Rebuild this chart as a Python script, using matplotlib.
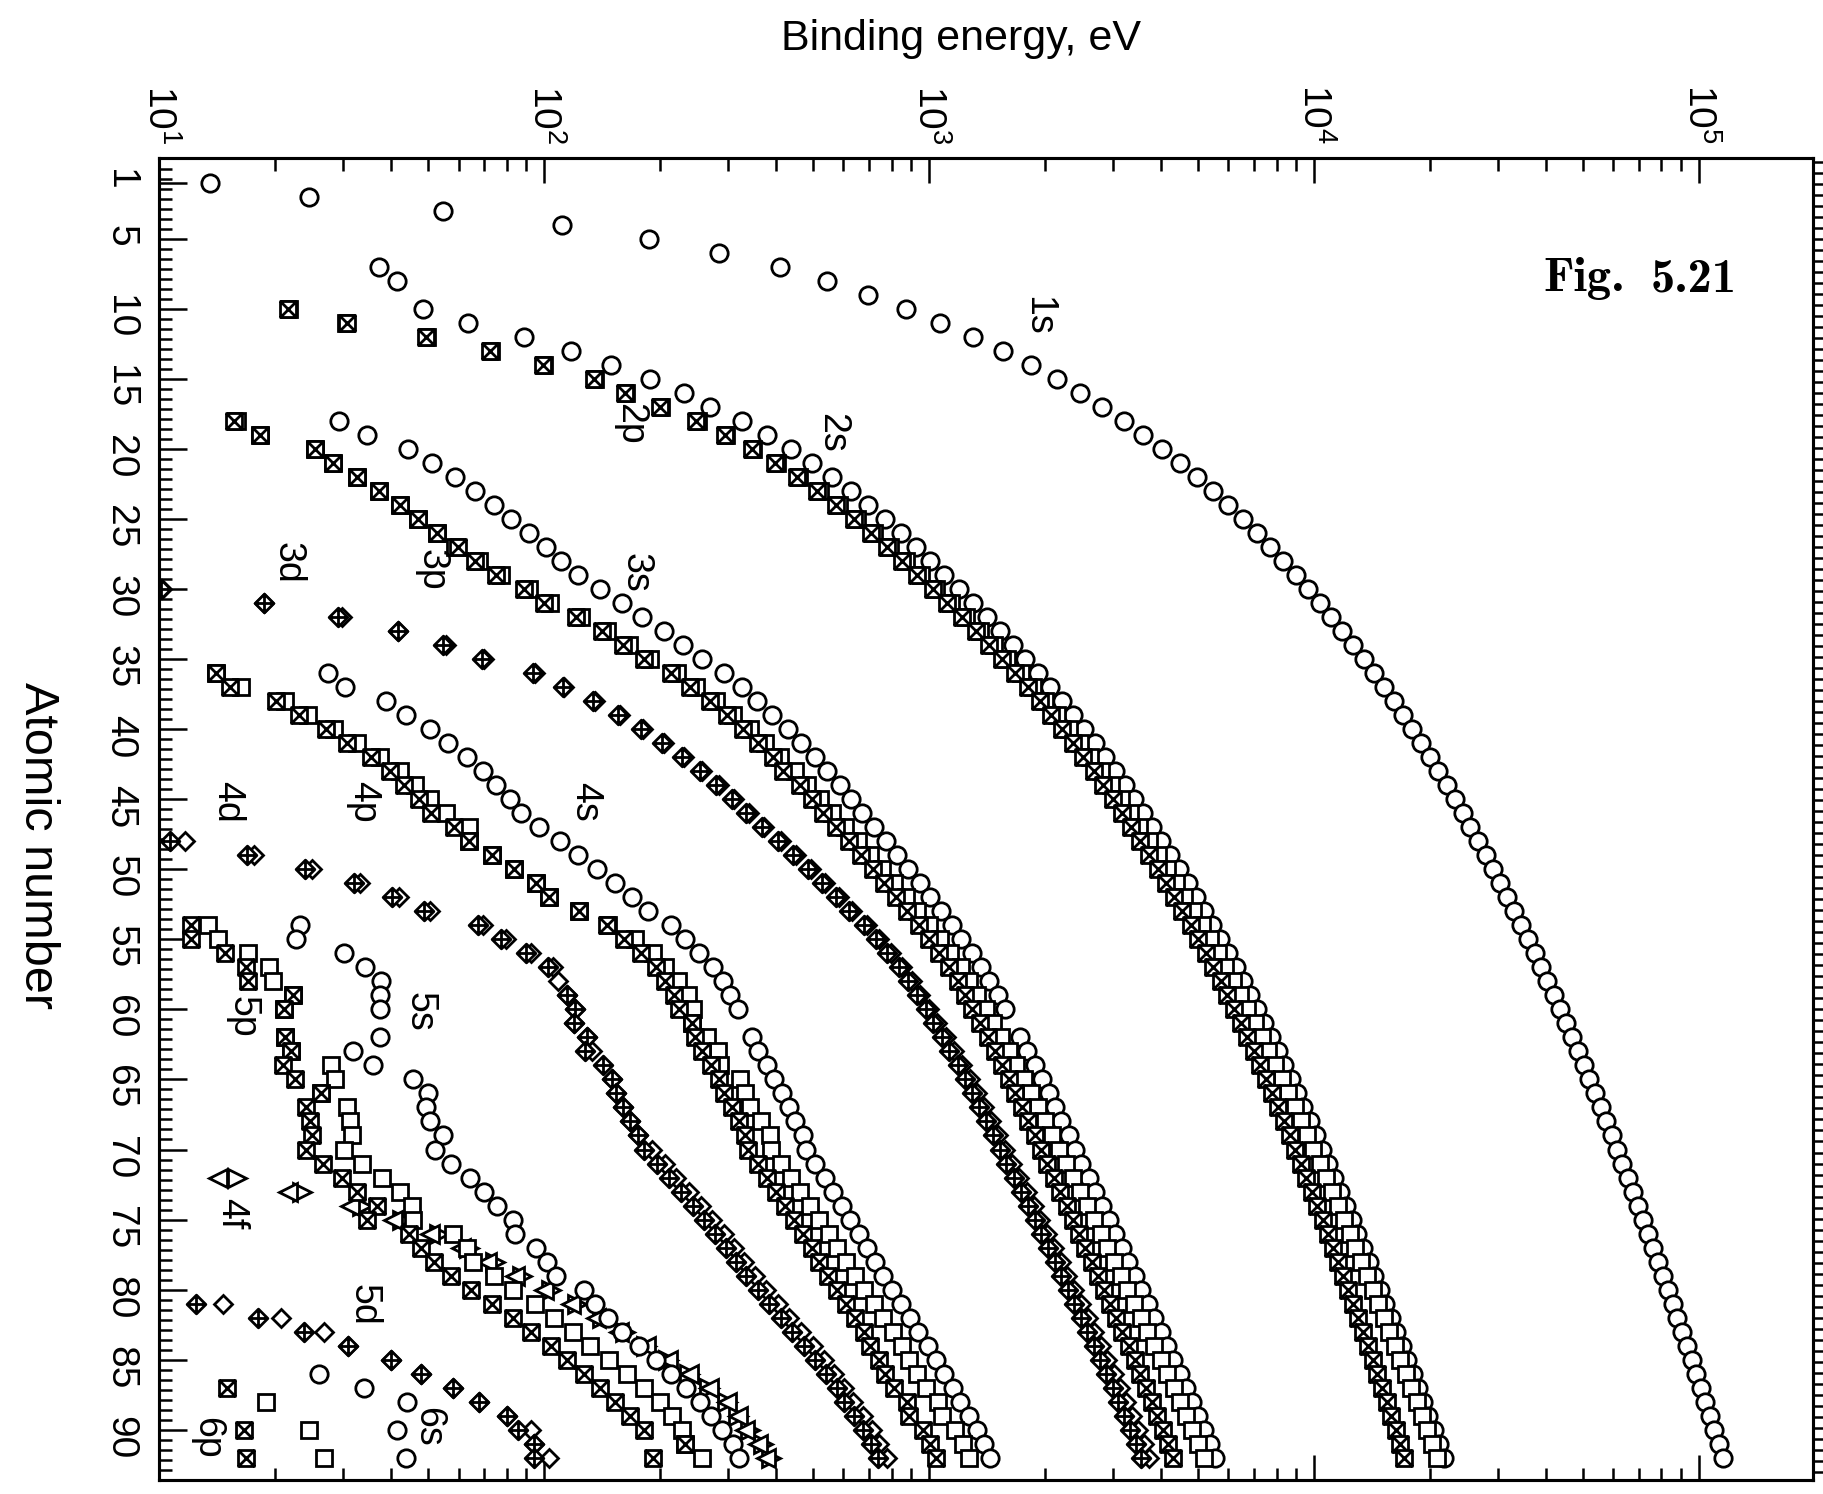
import numpy as np
import matplotlib
matplotlib.use('Agg')
import matplotlib.pyplot as plt
from matplotlib.path import Path
from matplotlib.ticker import FixedLocator, LogLocator, NullFormatter, LogFormatterMathtext

plt.rcParams['font.family'] = ['Liberation Sans', 'DejaVu Sans']
plt.rcParams['mathtext.fontset'] = 'custom'
plt.rcParams['mathtext.rm'] = 'Liberation Sans'
plt.rcParams['mathtext.default'] = 'regular'

N = np.nan

# electron binding energies (eV); each list starts at the given atomic number
z_1s = 1
e_1s = [13.6, 24.6, 54.7, 111.5, 188, 284.2, 409.9, 543.1, 696.7, 870.2,
        1070.8, 1303.0, 1559.6, 1839, 2145.5, 2472, 2822.4, 3205.9, 3608.4, 4038.5,
        4492, 4966, 5465, 5989, 6539, 7112, 7709, 8333, 8979, 9659,
        10367, 11103, 11867, 12658, 13474, 14326, 15200, 16105, 17038, 17998,
        18986, 20000, 21044, 22117, 23220, 24350, 25514, 26711, 27940, 29200,
        30491, 31814, 33169, 34561, 35985, 37441, 38925, 40443, 41991, 43569,
        45184, 46834, 48519, 50239, 51996, 53789, 55618, 57486, 59390, 61332,
        63314, 65351, 67416, 69525, 71676, 73871, 76111, 78395, 80725, 83102,
        85530, 88005, 90524, 93105, 95730, 98404, 101137, 103922, 106755, 109651,
        112601, 115606]

z_2s = 7
e_2s = [37.3, 41.6, N, 48.5,
        63.5, 88.7, 117.8, 149.7, 189, 230.9, 270, 326.3, 378.6, 438.4,
        498.0, 560.9, 626.7, 696.0, 769.1, 844.6, 925.1, 1008.6, 1096.7, 1196.2,
        1299.0, 1414.6, 1527.0, 1652.0, 1782, 1921, 2065, 2216, 2373, 2532,
        2698, 2866, 3043, 3224, 3412, 3604, 3806, 4018, 4238, 4465,
        4698, 4939, 5188, 5453, 5714, 5989, 6266, 6549, 6835, 7126,
        7428, 7737, 8052, 8376, 8708, 9046, 9394, 9751, 10116, 10486,
        10870, 11271, 11682, 12100, 12527, 12968, 13419, 13880, 14353, 14839,
        15347, 15861, 16388, 16939, 17493, 18049, 18639, 19237, 19840, 20472,
        21105, 21757]

z_2p = 10
e_2p12 = [21.7,
          30.65, 49.78, 72.95, 99.82, 136, 163.6, 202, 250.6, 297.3, 349.7,
          403.6, 460.2, 519.8, 583.8, 649.9, 719.9, 793.2, 870.0, 952.3, 1044.9,
          1143.2, 1248.1, 1359.1, 1474.3, 1596, 1730.9, 1864, 2007, 2156, 2307,
          2465, 2625, 2793, 2967, 3146, 3330, 3524, 3727, 3938, 4156,
          4380, 4612, 4852, 5107, 5359, 5624, 5891, 6164, 6440, 6722,
          7013, 7312, 7617, 7930, 8252, 8581, 8918, 9264, 9617, 9978,
          10349, 10739, 11136, 11544, 11959, 12385, 12824, 13273, 13734, 14209,
          14698, 15200, 15711, 16244, 16785, 17337, 17907, 18484, 19083, 19693,
          20314, 20948]
e_2p32 = [21.6,
          30.81, 49.50, 72.55, 99.42, 135, 162.5, 200, 248.4, 294.6, 346.2,
          398.7, 453.8, 512.1, 574.1, 638.7, 706.8, 778.1, 852.7, 932.7, 1021.8,
          1116.4, 1217.0, 1323.6, 1433.9, 1550, 1678.4, 1804, 1940, 2080, 2223,
          2371, 2520, 2677, 2838, 3004, 3173, 3351, 3538, 3730, 3929,
          4132, 4341, 4557, 4786, 5012, 5247, 5483, 5723, 5964, 6208,
          6459, 6716, 6977, 7243, 7514, 7790, 8071, 8358, 8648, 8944,
          9244, 9561, 9881, 10207, 10535, 10871, 11215, 11564, 11919, 12284,
          12658, 13035, 13419, 13814, 14214, 14619, 15031, 15444, 15871, 16300,
          16733, 17166]

z_3 = 18
e_3s = [29.3, 34.8, 44.3,
        51.1, 58.7, 66.3, 74.1, 82.3, 91.3, 101.0, 110.8, 122.5, 139.8,
        159.5, 180.1, 204.7, 229.6, 257, 292.8, 326.7, 358.7, 392.0, 430.3,
        466.6, 506.3, 544, 586.1, 628.1, 671.6, 719.0, 772.0, 827.2, 884.7,
        946, 1006, 1072, 1148.7, 1211, 1293, 1362, 1436, 1511, 1575,
        N, 1723, 1800, 1881, 1968, 2047, 2128, 2207, 2307, 2398,
        2491, 2601, 2708, 2820, 2932, 3049, 3174, 3296, 3425, 3562,
        3704, 3851, 3999, 4149, 4317, 4482, 4652, 4822, 5002, 5182,
        5367, 5548]
e_3p12 = [15.9, 18.3, 25.4,
          28.3, 32.6, 37.2, 42.2, 47.2, 52.7, 58.9, 68.0, 77.3, 91.4,
          103.5, 124.9, 146.2, 166.5, 189, 222.2, 248.7, 280.3, 310.6, 343.5,
          376.1, 411.6, 447.6, 483.5, 521.3, 559.9, 603.8, 652.6, 703.2, 756.5,
          812.7, 870.8, 931, 1002.1, 1071, 1137, 1209, 1274, 1337, 1403,
          1471, 1541, 1614, 1688, 1768, 1842, 1923, 2006, 2090, 2173,
          2264, 2365, 2469, 2575, 2682, 2792, 2909, 3027, 3148, 3279,
          3416, 3554, 3696, 3854, 4008, 4159, 4327, 4490, 4656, 4830,
          5001, 5182]
e_3p32 = [15.7, 18.3, 25.4,
          28.3, 32.6, 37.2, 42.2, 47.2, 52.7, 59.9, 66.2, 75.1, 88.6,
          100.0, 120.8, 141.2, 160.7, 182, 214.4, 239.1, 270.0, 298.8, 329.8,
          360.6, 394.0, 417.7, 461.4, 496.5, 532.3, 573.0, 618.4, 665.3, 714.6,
          766.4, 820.0, 875, 940.6, 1003, 1063, 1128, 1187, 1242, 1297,
          1357, 1420, 1481, 1544, 1611, 1676, 1741, 1812, 1885, 1950,
          2024, 2108, 2194, 2281, 2367, 2457, 2551, 2645, 2743, 2847,
          2957, 3066, 3177, 3302, 3426, 3538, 3663, 3792, 3909, 4046,
          4174, 4303]

z_3d = 30
e_3d32 = [10.2,
          18.7, 29.8, 41.7, 55.5, 70, 95.0, 113.0, 136.0, 157.7, 181.1,
          205.0, 231.1, 257.6, 284.2, 311.9, 340.5, 374.0, 411.9, 451.4, 493.2,
          537.5, 583.4, 630.8, 689.0, 740.5, 795.7, 853, 902.4, 948.3, 1003.3,
          1052, 1110.9, 1158.6, 1221.9, 1276.9, 1333, 1392, 1453, 1515, 1576,
          1639, 1716, 1793, 1872, 1949, 2031, 2116, 2202, 2291, 2385,
          2485, 2586, 2688, 2798, 2909, 3022, 3136, 3248, 3370, 3491,
          3611, 3728]
e_3d52 = [10.1,
          18.7, 29.2, 41.7, 54.6, 69, 93.8, 112, 134.2, 155.8, 178.8,
          202.3, 227.9, 253.9, 280.0, 307.2, 335.2, 368.3, 405.2, 443.9, 484.9,
          528.2, 573.0, 619.3, 676.4, 726.6, 780.5, 836, 883.8, 928.8, 980.4,
          1027, 1083.4, 1127.5, 1189.6, 1241.1, 1292.6, 1351, 1409, 1468, 1528,
          1589, 1662, 1735, 1809, 1883, 1960, 2040, 2122, 2206, 2295,
          2389, 2484, 2580, 2683, 2787, 2892, 3000, 3105, 3219, 3332,
          3442, 3552]

z_4 = 36
e_4s = [27.5, 30.5, 38.9, 43.8, 50.6,
        56.4, 63.2, 69.5, 75.0, 81.4, 87.1, 97.0, 109.8, 122.9, 137.1,
        153.2, 169.4, 186, 213.2, 232.3, 253.5, 274.7, 291.0, 304.5, 319.2,
        N, 347.2, 360, 378.6, 396.0, 414.2, 432.4, 449.8, 470.9, 480.5,
        506.8, 538, 563.4, 594.1, 625.4, 658.2, 691.1, 725.4, 762.1, 802.2,
        846.2, 891.8, 939, 995, 1042, 1097, 1153, 1208, 1269, 1330,
        1387, 1439]
e_4p12 = [14.1, 16.3, 21.3, 24.4, 28.5,
          32.6, 37.6, 42.3, 46.3, 50.5, 55.7, 63.7, 63.9, 73.5, 83.6,
          95.6, 103.3, 123, 146.7, 172.4, 192, 205.8, 223.2, 236.3, 243.3,
          242, 265.6, 284, 286, 322.4, 333.5, 343.5, 366.2, 385.9, 388.7,
          412.4, 438.2, 463.4, 490.4, 518.7, 549.1, 577.8, 609.1, 642.7, 680.2,
          720.5, 761.9, 805.2, 851, 886, 929, 980, 1058, 1080, 1168,
          1224, 1271]
e_4p32 = [14.1, 15.3, 20.1, 23.1, 27.1,
          30.8, 35.5, 39.9, 43.2, 47.3, 50.9, 58.3, 63.9, 73.5, 83.6,
          95.6, 103.3, 123, 145.5, 161.3, 178.6, 196.0, 206.5, 217.6, 224.6,
          242, 247.4, 257, 271, 284.1, 293.2, 308.2, 320.2, 332.6, 339.7,
          359.2, 380.7, 400.9, 423.6, 446.8, 470.7, 495.8, 519.4, 546.3, 576.6,
          609.5, 643.5, 678.8, 705, 740, 768, 810, 879, 890, 966.4,
          1007, 1043.0]

z_4d = 48
e_4d32 = [11.7, 17.7, 24.9,
          33.3, 41.9, 50.6, 69.5, 79.8, 92.6, 105.3, 109, 115.1, 120.5,
          120, 129, 133, N, 150.5, 153.6, 160, 167.6, 175.5, 191.2,
          206.1, 220.0, 237.9, 255.9, 273.9, 293.1, 311.9, 331.6, 353.2, 378.2,
          405.7, 434.3, 464.0, 500, 533, 567, 603, 636, 675, 712.1,
          743, 778.3]
e_4d52 = [10.7, 16.9, 23.9,
          32.1, 40.4, 48.9, 67.5, 77.5, 89.9, 102.5, N, 115.1, 120.5,
          120, 129, 127.7, 142.6, 150.5, 153.6, 160, 167.6, 175.5, 182.4,
          196.3, 211.5, 226.4, 243.5, 260.5, 278.5, 296.3, 314.6, 335.1, 358.8,
          385.0, 412.2, 440.1, 473, 507, 541, 577, 603, 639, 675.2,
          708, 736.2]

z_4f = 72
e_4f52 = [15.9, 23.5, 33.6, 42.9, 53.4, 63.8, 74.5, 87.6, 104.0,
          122.2, 141.7, 162.3, 184, 210, 238, 268, 299, 319, 342.4,
          371, 388.2]
e_4f72 = [14.2, 21.6, 31.4, 40.5, 50.7, 60.8, 71.2, 84.0, 99.9,
          117.8, 136.9, 157.0, 184, 210, 238, 268, 299, 319, 333.1,
          360, 377.4]

z_5 = 54
e_5s = [23.3, 22.7, 30.3, 34.3, 37.8, 37.4, 37.5,
        N, 37.4, 32, 36, 45.6, 49.9, 49.3, 50.6, 54.7, 52.0,
        57.3, 64.2, 69.7, 75.6, 83, 84, 95.2, 101.7, 107.2, 127,
        136.0, 147, 159.3, 177, 195, 214, 234, 254, 272, 290,
        310, 321]
e_5p12 = [13.4, 14.2, 17.0, 19.3, 19.8, 22.3, 21.1,
          N, 21.3, 22, 28, 28.7, 26.3, 30.8, 31.4, 31.8, 30.3,
          33.6, 38, 42.2, 45.3, 45.6, 58, 63.0, 65.3, 74.2, 83.1,
          94.6, 106.4, 119.0, 132, 148, 164, 182, 200, 215, 229,
          232, 257]
e_5p32 = [12.1, 12.1, 14.8, 16.8, 17.0, 22.3, 21.1,
          N, 21.3, 22, 21, 22.6, 26.3, 24.1, 24.7, 25.0, 24.1,
          26.7, 29.9, 32.7, 36.8, 34.6, 44.5, 48.0, 51.7, 57.2, 64.5,
          73.5, 83.3, 92.6, 104, 115, 127, 140, 153, 167, 182,
          232, 192]

z_5d = 81
e_5d32 = [14.7, 20.7, 26.9, 31, 40, 48, 58, 68, 80, 92.5, 94, 102.8]
e_5d52 = [12.5, 18.1, 23.8, 31, 40, 48, 58, 68, 80, 85.4, 94, 94.2]

z_6s = 86
e_6s = [26, 34, 44, N, 41.4, N, 43.9]
z_6p = 87
e_6p12 = [N, 19, N, 24.5, N, 26.8]
e_6p32 = [15, N, N, 16.6, N, 16.8]

shell_labels = ['1s', '2s', '2p', '3s', '3p', '3d', '4s', '4p', '4d',
                '5s', '5p', '4f', '5d', '6s', '6p']
label_pos = [(1919, 10.5), (560, 18.8), (167, 18.2), (173, 28.8), (51, 28.6),
             (21.6, 28.1), (128, 45.2), (34, 45.2), (15, 45.2),
             (47.6, 60.2), (16.5, 60.5), (15.4, 74.6), (34, 81.1),
             (50, 89.8), (13.3, 90.6)]

# custom markers: square with X, diamond with +
box_x = Path([(-1, -1), (1, -1), (1, 1), (-1, 1), (-1, -1),
              (-1, -1), (1, 1), (-1, 1), (1, -1)],
             [Path.MOVETO, Path.LINETO, Path.LINETO, Path.LINETO, Path.CLOSEPOLY,
              Path.MOVETO, Path.LINETO, Path.MOVETO, Path.LINETO])
diamond_plus = Path([(0, -1), (1, 0), (0, 1), (-1, 0), (0, -1),
                     (0, -1), (0, 1), (-1, 0), (1, 0)],
                    [Path.MOVETO, Path.LINETO, Path.LINETO, Path.LINETO, Path.CLOSEPOLY,
                     Path.MOVETO, Path.LINETO, Path.MOVETO, Path.LINETO])

fig = plt.figure(figsize=(18.23, 14.94), dpi=100)
ax = fig.add_axes([159 / 1823, 14 / 1494, 1654 / 1823, 1322 / 1494])


def draw(z0, vals, marker, ms):
    z = np.arange(z0, z0 + len(vals))
    ax.plot(vals, z, ls='none', marker=marker, ms=ms, mfc='white',
            mec='black', mew=2.0)


circ = ('o', 12.5)
sq = ('s', 11)
sqx = (box_x, 11.5)
dia = ('D', 9.5)
diap = (diamond_plus, 13.5)
tr_r = ('>', 12.5)
tr_l = ('<', 12.5)

draw(z_1s, e_1s, *circ)
draw(z_2s, e_2s, *circ)
draw(z_2p, e_2p12, *sq)
draw(z_2p, e_2p32, *sqx)
draw(z_3, e_3s, *circ)
draw(z_3, e_3p12, *sq)
draw(z_3, e_3p32, *sqx)
draw(z_3d, e_3d32, *dia)
draw(z_3d, e_3d52, *diap)
draw(z_4, e_4s, *circ)
draw(z_4, e_4p12, *sq)
draw(z_4, e_4p32, *sqx)
draw(z_4d, e_4d32, *dia)
draw(z_4d, e_4d52, *diap)
draw(z_4f, e_4f52, *tr_r)
draw(z_4f, e_4f72, *tr_l)
draw(z_5, e_5s, *circ)
draw(z_5, e_5p12, *sq)
draw(z_5, e_5p32, *sqx)
draw(z_5d, e_5d32, *dia)
draw(z_5d, e_5d52, *diap)
draw(z_6s, e_6s, *circ)
draw(z_6p, e_6p12, *sq)
draw(z_6p, e_6p32, *sqx)

for lab, (ex, zz) in zip(shell_labels, label_pos):
    ax.text(ex, zz, lab, rotation=-90, fontsize=27, ha='center', va='center')

ax.set_xscale('log')
ax.set_xlim(10, 1.98e5)
ax.set_ylim(93.6, -0.8)

ax.xaxis.set_major_locator(LogLocator(base=10, numticks=10))
ax.xaxis.set_minor_locator(LogLocator(base=10, subs=np.arange(2, 10), numticks=20))
ax.xaxis.set_major_formatter(LogFormatterMathtext())
ax.xaxis.set_minor_formatter(NullFormatter())
ax.tick_params(axis='x', which='both', direction='in', top=True, bottom=True,
               labeltop=True, labelbottom=False, labelrotation=-90,
               labelsize=28, pad=10, width=1.8)
ax.tick_params(axis='x', which='major', length=18)
ax.tick_params(axis='x', which='minor', length=9)

ax.set_yticks([1] + list(range(5, 95, 5)))
ax.yaxis.set_minor_locator(FixedLocator(np.arange(0, 94, 5 / 7)))
ax.tick_params(axis='y', which='both', direction='in', left=True, right=False,
               labelleft=True, labelrotation=-90, labelsize=28, pad=15, width=1.8)
ax.tick_params(axis='y', which='major', length=20)
ax.tick_params(axis='y', which='minor', length=9)

rax = ax.twinx()
rax.set_ylim(ax.get_ylim())
rax.yaxis.set_major_locator(FixedLocator(np.arange(-0.5, 94, 11 / 14)))
rax.tick_params(axis='y', which='major', direction='out', length=8, width=1.8,
                labelright=False)
for sp in list(ax.spines.values()) + list(rax.spines.values()):
    sp.set_linewidth(2.2)

fig.text(961 / 1823, 1 - 50 / 1494, 'Binding energy, eV', ha='center',
         va='baseline', fontsize=31)
fig.text(37 / 1823, 1 - 845 / 1494, 'Atomic number', ha='center', va='center',
         rotation=-90, fontsize=35)
fig.text(1584 / 1823, 1 - 291 / 1494, 'Fig.', ha='center', va='baseline',
         fontsize=35, family=['cmb10', 'DejaVu Serif'])
fig.text(1694 / 1823, 1 - 291 / 1494, '5.21', ha='center', va='baseline',
         fontsize=35, family=['cmb10', 'DejaVu Serif'])

fig.savefig('out.png', dpi=100, facecolor='white')
